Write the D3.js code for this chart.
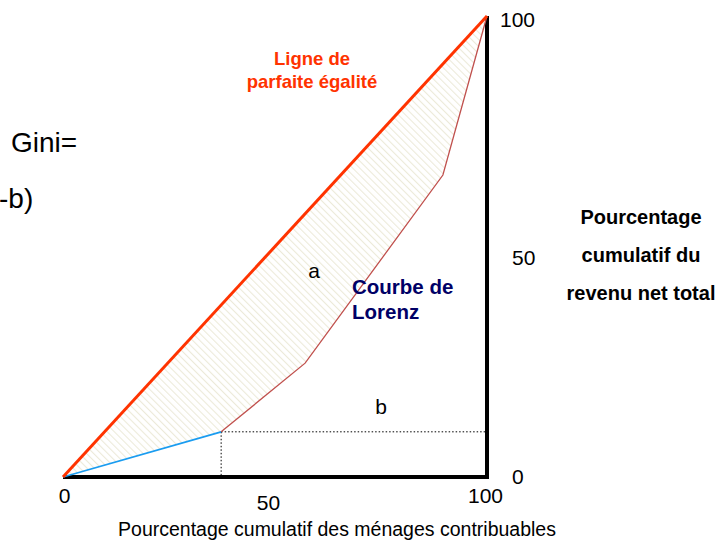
<!DOCTYPE html>
<html><head><meta charset="utf-8">
<script src="https://cdn.jsdelivr.net/npm/d3@7"></script>
<style>
body{margin:0;background:#fff;}
svg{font-family:"Liberation Sans",Arial,sans-serif;}
</style></head>
<body><svg id="c" width="724" height="549"></svg>
<script>
// Data
const lorenzX = [0, 37.3, 57.1, 89.6, 100];
const lorenzY = [0, 9.8, 24.7, 65.5, 100];
const equalityX = [0, 100];
const equalityY = [0, 100];
const xTicks = [0, 50, 100];
const yTicks = [0, 50, 100];

const svg = d3.select("#c");
const x = d3.scaleLinear().domain([0,100]).range([63,487]);
const y = d3.scaleLinear().domain([0,100]).range([477,16]);

// hatch pattern
const defs = svg.append("defs");
const pat = defs.append("pattern").attr("id","hatch").attr("patternUnits","userSpaceOnUse")
  .attr("width",5).attr("height",5).attr("patternTransform","rotate(-45)");
pat.append("line").attr("x1",0).attr("y1",0).attr("x2",0).attr("y2",5)
  .attr("stroke","#ecead9").attr("stroke-width",2.2);

const lorenz = lorenzX.map((v,i)=>[v,lorenzY[i]]);
const equality = equalityX.map((v,i)=>[v,equalityY[i]]);
const line = d3.line().x(d=>x(d[0])).y(d=>y(d[1]));

// area a (between equality line and Lorenz curve)
svg.append("path").attr("d", line(lorenz) + "Z")
  .attr("fill","url(#hatch)").attr("stroke","none");

// dotted lines at second point
const p = lorenz[1];
svg.append("line").attr("x1",x(p[0])).attr("y1",y(p[1])).attr("x2",x(100)).attr("y2",y(p[1]))
  .attr("stroke","#000").attr("stroke-width",1).attr("stroke-dasharray","1.5,2");
svg.append("line").attr("x1",x(p[0])).attr("y1",y(p[1])).attr("x2",x(p[0])).attr("y2",y(0))
  .attr("stroke","#000").attr("stroke-width",1).attr("stroke-dasharray","1.5,2");

// axes
const xAxis = svg.append("g").attr("transform",`translate(0,${y(0)})`)
  .call(d3.axisBottom(x).tickValues(xTicks).tickSize(0).tickPadding(11).tickFormat(d3.format("d")));
xAxis.select(".domain").attr("stroke","#000").attr("stroke-width",4).attr("d",`M${x(0)},0H${x(100)+2}`);
xAxis.selectAll("text").attr("font-size",21).attr("fill","#000").attr("font-family","Liberation Sans, Arial, sans-serif")
  .attr("dx", d => d===50 ? -7 : (d===100 ? -2 : 1))
  .attr("dy", d => d===50 ? "1.05em" : "0.71em");

const yAxis = svg.append("g").attr("transform",`translate(${x(100)},0)`)
  .call(d3.axisRight(y).tickValues(yTicks).tickSize(0).tickPadding(12).tickFormat(d3.format("d")));
yAxis.select(".domain").attr("stroke","#000").attr("stroke-width",4).attr("d",`M0,${y(100)}V${y(0)+2}`);
yAxis.selectAll("text").attr("font-size",21).attr("fill","#000").attr("font-family","Liberation Sans, Arial, sans-serif")
  .attr("dx", d => d===100 ? 1 : 13)
  .attr("dy", d => d===50 ? "0.85em" : (d===100 ? "0.5em" : "0.3em"));

// Lorenz curve: blue first segment, brown-red rest
svg.append("path").attr("d", line(lorenz.slice(0,2))).attr("fill","none")
  .attr("stroke","#1a9cf0").attr("stroke-width",1.8);
svg.append("path").attr("d", line(lorenz.slice(1))).attr("fill","none")
  .attr("stroke","#c0504d").attr("stroke-width",1.3);

// equality line
svg.append("path").attr("d", line(equality)).attr("fill","none")
  .attr("stroke","#ff3300").attr("stroke-width",3);

// texts
function txt(t, xx, yy, o){
  const e = svg.append("text").attr("x",xx).attr("y",yy).text(t);
  Object.entries(o||{}).forEach(([k,v])=>e.attr(k,v));
  return e;
}
const red = {fill:"#ff3300","font-weight":"bold","font-size":18.5,"text-anchor":"middle"};
txt("Ligne de", 312, 65, red);
txt("parfaite égalité", 312, 88, red);

txt("Gini=", 11, 152, {"font-size":28,fill:"#000"});
txt("-b)", -1, 208, {"font-size":28,fill:"#000"});

txt("a", 314, 278, {"font-size":21,fill:"#000","text-anchor":"middle"});
txt("b", 381, 414, {"font-size":21,fill:"#000","text-anchor":"middle"});

const navy = {fill:"#000066","font-weight":"bold","font-size":20.5};
txt("Courbe de", 352, 294, navy);
txt("Lorenz", 352, 319, navy);

const blk = {fill:"#000","font-weight":"bold","font-size":20,"text-anchor":"middle"};
txt("Pourcentage", 641, 224, blk);
txt("cumulatif du", 641, 262, blk);
txt("revenu net total", 641, 300, blk);

txt("Pourcentage cumulatif des ménages contribuables", 337, 536, {"font-size":19.5,fill:"#000","text-anchor":"middle"});
</script></body></html>
